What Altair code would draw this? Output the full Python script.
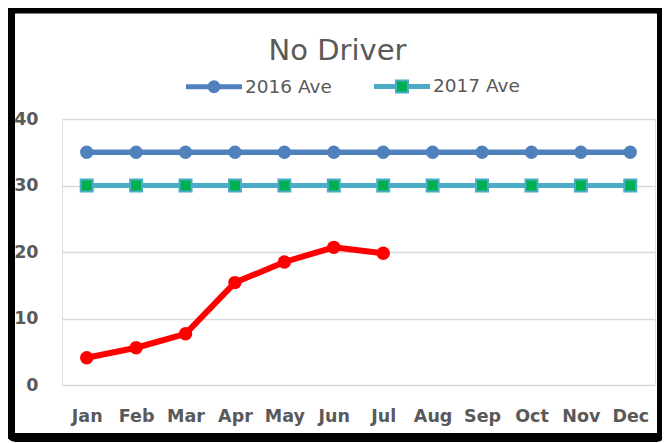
import altair as alt
import pandas as pd

months = ["Jan", "Feb", "Mar", "Apr", "May", "Jun", "Jul", "Aug", "Sep", "Oct", "Nov", "Dec"]
ave_2016 = [35, 35, 35, 35, 35, 35, 35, 35, 35, 35, 35, 35]
ave_2017 = [30, 30, 30, 30, 30, 30, 30, 30, 30, 30, 30, 30]
no_driver_months = ["Jan", "Feb", "Mar", "Apr", "May", "Jun", "Jul"]
no_driver = [4.1, 5.6, 7.7, 15.4, 18.5, 20.7, 19.8]
series_names = ["2016 Ave", "2017 Ave"]
y_ticks = [0, 10, 20, 30, 40]

BLUE = "#4F81BD"
TEAL = "#4BACC6"
GREEN = "#00B050"
RED = "#FF0000"
GREY = "#595959"
FONT = "DejaVu Sans"

rows = []
for m, v in zip(months, ave_2016):
    rows.append({"month": m, "series": "2016 Ave", "value": v})
for m, v in zip(months, ave_2017):
    rows.append({"month": m, "series": "2017 Ave", "value": v})
for m, v in zip(no_driver_months, no_driver):
    rows.append({"month": m, "series": "No Driver", "value": v})
df = pd.DataFrame(rows)

x = alt.X(
    "month:N", sort=months,
    scale=alt.Scale(type="point", padding=0.5),
    axis=alt.Axis(title=None, labelAngle=0, ticks=False, domain=False, grid=False,
                  labelFont=FONT, labelFontWeight="bold", labelFontSize=17.5,
                  labelColor=GREY, labelPadding=22),
)
y = alt.Y(
    "value:Q", scale=alt.Scale(domain=[0, 40]),
    axis=alt.Axis(title=None, values=y_ticks, ticks=False, domain=False, grid=True,
                  gridColor="#D9D9D9", gridWidth=1.5,
                  labelFont=FONT, labelFontWeight="bold", labelFontSize=17.5,
                  labelColor=GREY, labelPadding=24),
)

base = alt.Chart(df)

line16 = base.transform_filter(alt.datum.series == "2016 Ave").mark_line(
    color=BLUE, strokeWidth=5.5).encode(x=x, y=y)
pts16 = base.transform_filter(alt.datum.series == "2016 Ave").mark_point(
    filled=True, shape="circle", size=177, color=BLUE, opacity=1).encode(x=x, y=y)

line17 = base.transform_filter(alt.datum.series == "2017 Ave").mark_line(
    color=TEAL, strokeWidth=5).encode(x=x, y=y)
pts17 = base.transform_filter(alt.datum.series == "2017 Ave").mark_point(
    filled=True, shape="square", size=144, fill=GREEN, stroke=TEAL,
    strokeWidth=2, opacity=1).encode(x=x, y=y)

line_nd = base.transform_filter(alt.datum.series == "No Driver").mark_line(
    color=RED, strokeWidth=6).encode(x=x, y=y)
pts_nd = base.transform_filter(alt.datum.series == "No Driver").mark_point(
    filled=True, shape="circle", size=180, color=RED, opacity=1).encode(x=x, y=y)

# legend symbols: a line with a marker in the middle
path16 = ("M-1,-0.054L1,-0.054M-1,0L1,0M-1,0.054L1,0.054"
          "M-0.196,0A0.196,0.196,0,1,0,0.196,0A0.196,0.196,0,1,0,-0.196,0Z")
path17 = ("M-1,-0.054L-0.215,-0.054M-1,0L-0.215,0M-1,0.054L-0.215,0.054"
          "M0.215,-0.054L1,-0.054M0.215,0L1,0M0.215,0.054L1,0.054"
          "M-0.215,-0.215L0.215,-0.215L0.215,0.215L-0.215,0.215Z")

leg = alt.Legend(
    title=None, orient="none", legendX=123, legendY=-62, direction="horizontal",
    columns=2, symbolSize=3136, symbolStrokeWidth=2, symbolOpacity=1,
    labelFont=FONT, labelFontSize=18.5, labelColor=GREY, labelOffset=2,
    columnPadding=38, padding=0,
)
legend_layer = base.transform_filter("false").mark_point(filled=True, opacity=1).encode(
    x=x, y=y,
    fill=alt.Fill("series:N", scale=alt.Scale(domain=series_names, range=[BLUE, GREEN]), legend=leg),
    stroke=alt.Stroke("series:N", scale=alt.Scale(domain=series_names, range=[BLUE, TEAL]), legend=leg),
    shape=alt.Shape("series:N", scale=alt.Scale(domain=series_names, range=[path16, path17]), legend=leg),
)

frame = alt.Chart(pd.DataFrame({"a": [0]})).mark_rect(
    fillOpacity=0, stroke="black", strokeWidth=9, cornerRadius=5
).encode(x=alt.value(-51.5), x2=alt.value(599.5), y=alt.value(-110), y2=alt.value(318.5))

chart = alt.layer(
    line16, line17, line_nd, pts16, pts17, pts_nd, legend_layer, frame
).properties(
    width=593, height=266,
    title=alt.TitleParams("No Driver", font=FONT, fontSize=29, fontWeight="normal",
                          color=GREY, anchor="middle", dx=-21, dy=88,
                          baseline="alphabetic"),
    padding={"left": 54, "top": 111, "right": 7, "bottom": 58},
    autosize=alt.AutoSizeParams(type="none"),
).configure_view(stroke=None).configure(background="white")

chart.save("out.html", embed_options={"renderer": "svg", "actions": False})
